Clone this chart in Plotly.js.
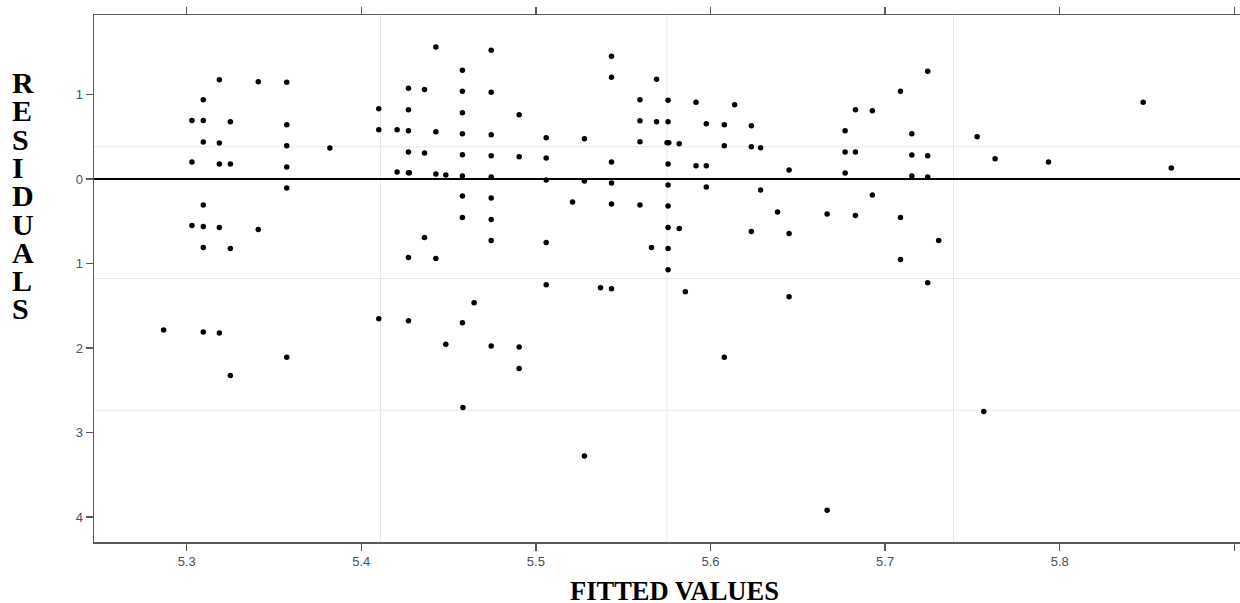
<!DOCTYPE html>
<html>
<head>
<meta charset="utf-8">
<script src="https://cdn.plot.ly/plotly-3.0.1.min.js"></script>
<style>
  html, body { margin: 0; padding: 0; background: #ffffff; }
  #chart { width: 1240px; height: 603px; }
</style>
</head>
<body>
<div id="chart"></div>
<script>
// Fitted values (x) and residuals (y)
const fitted = [
  5.2868,
  5.3030, 5.3030, 5.3030,
  5.3095, 5.3095, 5.3095, 5.3095, 5.3095, 5.3095, 5.3095,
  5.3187, 5.3187, 5.3187, 5.3187, 5.3187,
  5.3250, 5.3250, 5.3250, 5.3250,
  5.3410, 5.3410,
  5.3573, 5.3573, 5.3573, 5.3573, 5.3573, 5.3573,
  5.3820,
  5.4100, 5.4100, 5.4100,
  5.4205, 5.4205,
  5.4270, 5.4270, 5.4270, 5.4270, 5.4270, 5.4275, 5.4270, 5.4270,
  5.4362, 5.4362, 5.4362,
  5.4427, 5.4427, 5.4427, 5.4427,
  5.4484, 5.4484,
  5.4579, 5.4579, 5.4579, 5.4579, 5.4579, 5.4579, 5.4579, 5.4579, 5.4579, 5.4582,
  5.4646,
  5.4744, 5.4744, 5.4744, 5.4744, 5.4744, 5.4744, 5.4744, 5.4744, 5.4744,
  5.4904, 5.4904, 5.4904, 5.4904,
  5.5059, 5.5059, 5.5059, 5.5059, 5.5059,
  5.5210,
  5.5278, 5.5278, 5.5278,
  5.5370,
  5.5433, 5.5433, 5.5433, 5.5433, 5.5433, 5.5433,
  5.5596, 5.5596, 5.5596, 5.5596,
  5.5662,
  5.5691, 5.5691,
  5.5757, 5.5757, 5.5751, 5.5761, 5.5757, 5.5757, 5.5757, 5.5757, 5.5757, 5.5757,
  5.5821, 5.5821,
  5.5856,
  5.5917, 5.5917,
  5.5976, 5.5976, 5.5976,
  5.6079, 5.6079, 5.6079,
  5.6138,
  5.6234, 5.6234, 5.6234,
  5.6287, 5.6287,
  5.6384,
  5.6450, 5.6450, 5.6450,
  5.6668, 5.6668,
  5.6771, 5.6771, 5.6771,
  5.6830, 5.6830, 5.6830,
  5.6927, 5.6927,
  5.7088, 5.7088, 5.7088,
  5.7153, 5.7153, 5.7153,
  5.7244, 5.7244, 5.7244, 5.7244,
  5.7307,
  5.7527,
  5.7565,
  5.7630,
  5.7936,
  5.8478,
  5.8639
];
const residuals = [
  -1.787,
  0.693, 0.201, -0.549,
  0.938, 0.693, 0.438, -0.308, -0.561, -0.809, -1.811,
  1.175, 0.426, 0.178, -0.573, -1.822,
  0.678, 0.178, -0.821, -2.324,
  1.151, -0.596,
  1.143, 0.643, 0.394, 0.142, -0.107, -2.107,
  0.367,
  0.832, 0.583, -1.653,
  0.583, 0.083,
  1.072, 0.820, 0.572, 0.319, 0.075, 0.075, -0.928, -1.677,
  1.060, 0.308, -0.691,
  1.562, 0.560, 0.059, -0.940,
  0.047, -1.953,
  1.285, 1.037, 0.785, 0.536, 0.288, 0.035, -0.201, -0.454, -1.701, -2.703,
  -1.464,
  1.522, 1.025, 0.524, 0.276, 0.024, -0.225, -0.478, -0.727, -1.976,
  0.761, 0.264, -1.988, -2.241,
  0.489, 0.249, -0.012, -0.750, -1.251,
  -0.272,
  0.477, -0.024, -3.275,
  -1.286,
  1.451, 1.202, 0.201, -0.047, -0.296, -1.298,
  0.938, 0.690, 0.441, -0.308,
  -0.809,
  1.179, 0.678,
  0.930, 0.678, 0.430, 0.430, 0.178, -0.071, -0.320, -0.573, -0.821, -1.073,
  0.418, -0.585,
  -1.334,
  0.907, 0.157,
  0.654, 0.157, -0.095,
  0.643, 0.394, -2.107,
  0.879,
  0.631, 0.382, -0.620,
  0.370, -0.130,
  -0.391,
  0.106, -0.644, -1.393,
  -0.414, -3.917,
  0.572, 0.319, 0.071,
  0.820, 0.319, -0.431,
  0.808, -0.189,
  1.037, -0.454, -0.951,
  0.536, 0.284, 0.035,
  1.274, 0.276, 0.024, -1.227,
  -0.727,
  0.501,
  -2.750,
  0.240,
  0.201,
  0.907,
  0.130
];

const xTickVals = [5.3, 5.4, 5.5, 5.6, 5.7, 5.8, 5.9];
const xTickText = ['5.3', '5.4', '5.5', '5.6', '5.7', '5.8', ''];
const yTickVals = [1, 0, -1, -2, -3, -4];
const yTickText = ['1', '0', '1', '2', '3', '4'];

const xTitle = 'FITTED VALUES';
const yTitle = 'RESIDUALS';

const tickFont = { family: 'Liberation Sans, Arial, sans-serif', size: 13, color: '#4a5062' };
const titleFont = { family: 'Liberation Serif, Times New Roman, serif', size: 26.5, color: '#000000', weight: 'bold' };

const trace = {
  type: 'scatter',
  mode: 'markers',
  x: fitted,
  y: residuals,
  marker: { color: '#000000', size: 5.5, line: { width: 0 } },
  hoverinfo: 'x+y',
  showlegend: false
};

// light quarter grid (drawn in paper coordinates)
const quarters = [0.25, 0.5, 0.75];
const shapes = [];
quarters.forEach(q => {
  shapes.push({ type: 'line', xref: 'paper', yref: 'paper', x0: q, x1: q, y0: 0, y1: 1,
    line: { color: '#e8e8e8', width: 1 }, layer: 'below' });
  shapes.push({ type: 'line', xref: 'paper', yref: 'paper', x0: 0, x1: 1, y0: q, y1: q,
    line: { color: '#e8e8e8', width: 1 }, layer: 'below' });
});

// stacked vertical y-axis title, one letter per line
const plotTop = 15, plotH = 527;
const annotations = yTitle.split('').map((ch, i) => ({
  text: ch,
  xref: 'paper', yref: 'paper',
  x: 0, xshift: -84, xanchor: 'left',
  width: 30, align: 'left',
  y: 1 - ((82.5 + 28.3 * i) - plotTop) / plotH, yanchor: 'middle',
  showarrow: false,
  font: { family: 'Liberation Serif, Times New Roman, serif', size: 30, color: '#000000', weight: 'bold' }
}));
annotations.push({
  text: xTitle,
  xref: 'paper', yref: 'paper',
  x: 0.5, xshift: 7.5, xanchor: 'center',
  y: 0, yshift: -49, yanchor: 'middle',
  showarrow: false,
  font: titleFont
});

const layout = {
  width: 1240,
  height: 603,
  margin: { l: 94, r: 0, t: 15, b: 61, pad: 0 },
  paper_bgcolor: '#ffffff',
  plot_bgcolor: '#ffffff',
  showlegend: false,
  xaxis: {
    range: [5.24691, 5.90326],
    tickmode: 'array',
    tickvals: xTickVals,
    ticktext: xTickText,
    ticks: 'outside',
    ticklen: 7,
    tickwidth: 1.5,
    tickcolor: '#5a5a5a',
    showline: true,
    linecolor: '#5a5a5a',
    linewidth: 1.5,
    mirror: 'ticks',
    showgrid: false,
    zeroline: false,
    tickfont: tickFont
  },
  yaxis: {
    range: [-4.2933, 1.9397],
    tickmode: 'array',
    tickvals: yTickVals,
    ticktext: yTickText,
    ticks: 'outside',
    ticklen: 7,
    tickwidth: 1.5,
    tickcolor: '#5a5a5a',
    showline: true,
    linecolor: '#5a5a5a',
    linewidth: 1.5,
    mirror: false,
    showgrid: false,
    zeroline: true,
    zerolinecolor: '#000000',
    zerolinewidth: 1.3,
    tickfont: tickFont
  },
  shapes: shapes,
  annotations: annotations
};

Plotly.newPlot('chart', [trace], layout, { staticPlot: true, displayModeBar: false });
</script>
</body>
</html>
